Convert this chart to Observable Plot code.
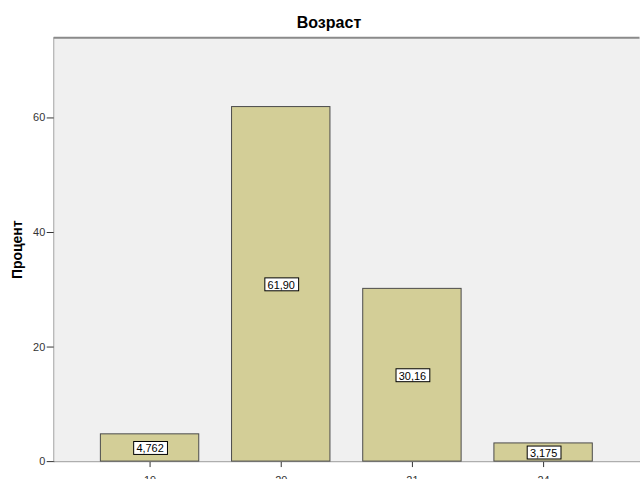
<!DOCTYPE html>
<html>
<head>
<meta charset="utf-8">
<script src="https://cdn.jsdelivr.net/npm/d3@7"></script>
<script src="https://cdn.jsdelivr.net/npm/@observablehq/plot@0.6"></script>
<style>
  html, body { margin: 0; padding: 0; background: #fff; overflow: hidden; width: 640px; height: 479px; }
  #wrap { position: relative; width: 640px; height: 479px; overflow: hidden; }
  #title { position: absolute; top: 14px; left: 0; width: 658px; text-align: center;
           font: bold 16px "Liberation Sans", Arial, sans-serif; color: #000; }
  #chart { position: absolute; top: 0; left: 0; }
</style>
</head>
<body>
<div id="wrap">
  <div id="chart"></div>
  <div id="title">Возраст</div>
</div>
<script>
const ages = ["19", "20", "21", "24"];
const percents = [4.762, 61.90, 30.16, 3.175];
const yTicks = [0, 20, 40, 60];
const yLabel = "Процент";

const data = ages.map((a, i) => ({age: a, pct: percents[i]}));
const fmt = v => d3.format(".4g")(v).replace(".", ",");

const plot = Plot.plot({
  width: 644,
  height: 494,
  marginLeft: 54,
  marginRight: 0.5,
  marginTop: 37.5,
  marginBottom: 30,
  style: {fontFamily: "'Liberation Sans', Arial, sans-serif", fontSize: "11px", background: "#fff", color: "#333"},
  x: {domain: ages, paddingInner: 0.25, paddingOuter: 0.35, label: null, tickSize: 6, tickPadding: 9, line: true},
  y: {domain: [0, 74], ticks: yTicks, label: null, tickSize: 7, tickPadding: 2, tickFormat: d => String(d), line: true},
  marks: [
    Plot.frame({fill: "#f0f0f0", stroke: null}),
    Plot.ruleY([74], {stroke: "#8a8a8a", strokeWidth: 2}),
    Plot.barY(data, {x: "age", y: "pct", fill: "#d3ce97", stroke: "#4a4a4a", strokeWidth: 1}),
    Plot.text(data, {x: "age", y: d => d.pct / 2, text: d => fmt(d.pct), fill: "#000",
      fontSize: 11, dy: 1}),
    Plot.text([yLabel], {frameAnchor: "left", textAnchor: "middle", dx: -37, rotate: -90,
      fontWeight: "bold", fontSize: 14, fill: "#000"})
  ]
});
document.getElementById("chart").appendChild(plot);

// axis lines in black
plot.querySelectorAll('g[aria-label="x-axis"] path, g[aria-label="y-axis"] path').forEach(p => {
  p.setAttribute("stroke", "#000");
});

// white boxes behind the value labels
const labelTexts = [...plot.querySelectorAll("text")].filter(t => percents.map(fmt).includes(t.textContent));
labelTexts.forEach(t => {
  const b = t.getBBox();
  const r = document.createElementNS("http://www.w3.org/2000/svg", "rect");
  r.setAttribute("x", Math.round(b.x - 3) + 0.5);
  r.setAttribute("y", Math.round(b.y - 1) + 0.5);
  r.setAttribute("width", Math.round(b.width + 6));
  r.setAttribute("height", Math.round(b.height + 1));
  r.setAttribute("fill", "#fff");
  r.setAttribute("stroke", "#000");
  r.setAttribute("stroke-width", 1);
  const tr = t.getAttribute("transform");
  if (tr) r.setAttribute("transform", tr);
  t.parentNode.insertBefore(r, t);
});
</script>
</body>
</html>
